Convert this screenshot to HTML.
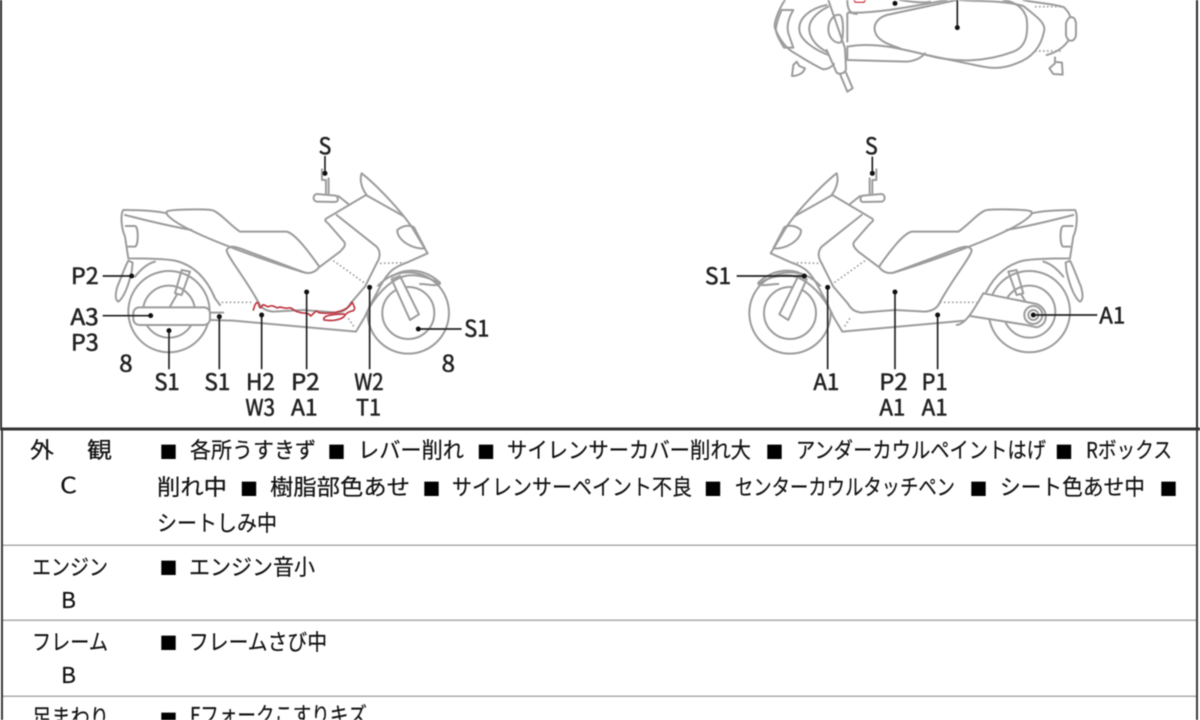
<!DOCTYPE html>
<html lang="ja"><head><meta charset="utf-8"><title>車両状態図</title>
<style>
html,body{margin:0;padding:0;background:#fff;width:1200px;height:720px;overflow:hidden}
svg{display:block;filter:blur(.4px)}
text{font-family:"Liberation Sans","Noto Sans CJK JP",sans-serif;fill:#222}
.l text{font-family:"Noto Sans CJK JP",sans-serif;font-size:68px;fill:#222;stroke:#222;stroke-width:1.6;text-anchor:start}
.b{fill:none;stroke:#9c9c9c;stroke-width:6;stroke-linecap:round;stroke-linejoin:round}
.d{fill:none;stroke:#a0a0a0;stroke-width:5;stroke-dasharray:5 7}
.k{stroke:#222;stroke-width:5;fill:none}
.t text{font-family:"Noto Sans CJK JP",sans-serif;font-size:22px;fill:#111;stroke:#111;stroke-width:.2}
.s text{font-family:"Noto Sans CJK JP",sans-serif;font-size:18px;fill:#000}
</style></head><body>
<svg width="1200" height="720" viewBox="0 0 1200 720" xmlns="http://www.w3.org/2000/svg">
<defs>
<g id="bike">
  <circle cx="327" cy="545" r="122"/><circle cx="327" cy="545" r="78"/>
  <circle cx="1045" cy="549" r="122"/><circle cx="1045" cy="549" r="78"/>
  <path d="M960,470 L915,560 L888,605 L800,600 L800,450 Z" fill="#fff" stroke="none"/>
  <path d="M995,448 L1020,438 L1077,553 L1050,570 Z" fill="#fff"/>
  <path d="M930,530 C960,480 1000,445 1040,437 C1075,432 1115,445 1140,462 C1125,470 1105,462 1080,462"/>
  <path d="M995,440 C1030,415 1090,412 1140,458"/>
  <path d="M205,392 L218,398 L215,425 C205,470 190,505 175,515 C165,510 165,495 172,470 C185,440 195,410 205,392 Z"/>
  <path d="M225,440 C245,415 265,400 285,395"/>
  <path d="M190,240 C250,240 290,243 320,250 M195,255 C255,270 310,285 395,300"/>
  <path d="M320,245 C330,237 440,237 458,241 C480,248 510,285 540,305 L680,305 C710,312 760,385 778,410 C770,425 750,432 735,428 C690,415 360,310 320,252 Z"/>
  <path d="M190,240 C182,250 182,290 195,320 L205,385 C250,385 310,385 345,392 C400,405 440,445 465,505 L480,525"/>
  <path d="M197,288 L225,288 C236,290 236,346 225,350 L205,350"/>
  <path d="M345,490 L365,420 L390,425 L365,495 Z M330,530 L350,495"/>
  <path d="M905,130 C898,150 905,175 920,195 M905,130 C950,165 1020,240 1055,290"/>
  <path d="M1012,300 C1030,285 1050,285 1062,292 L1095,355 C1060,360 1010,330 1012,300 Z"/>
  <path d="M1055,290 L1103,370 L1040,398 C1000,412 985,425 960,470 C945,500 930,525 915,560 L888,605 L520,572"/>
  <path d="M800,265 L918,195 L1030,258"/>
  <path d="M800,265 C790,272 800,276 806,282 L852,335 C860,345 850,355 840,365 L780,410"/>
  <path d="M830,255 L950,350 C962,365 962,380 950,400 L915,470 L872,520 C860,540 850,545 830,548 L730,540"/>
  <path d="M500,360 C510,345 520,350 540,355 L735,428 M500,362 C505,385 560,450 598,522 C605,535 620,543 640,545 L730,540"/>
  <path d="M798,190 L798,150 L786,150 L786,118 M806,190 L806,145"/>
  <path d="M770,192 L828,197 C836,205 836,215 825,216 L770,215 C758,212 758,194 770,192 Z M835,198 L865,222"/>
</g>
<g id="dots">
  <path d="M820,392 L915,460 M960,400 L1035,398 M865,565 L885,595"/>
</g>
</defs>

<!-- frame -->
<rect x="1" y="-2" width="1196" height="431" fill="none" stroke="#2b2b2b" stroke-width="2"/>
<rect x="2" y="429" width="1195" height="300" fill="none" stroke="#3a3a3a" stroke-width="2"/>
<rect x="0" y="427.5" width="1200" height="3" fill="#333"/>
<rect x="3" y="544.5" width="1193" height="1.5" fill="#aaa"/>
<rect x="3" y="619.5" width="1193" height="1.5" fill="#aaa"/>
<rect x="3" y="695.5" width="1193" height="1.5" fill="#aaa"/>

<!-- top view -->
<g transform="translate(760,0) scale(.3333)">
 <g class="b">
  <path d="M75,0 C55,30 40,70 45,85 C55,110 75,145 105,160 C130,175 160,195 190,208 C205,208 215,200 222,192"/>
  <path d="M65,30 L100,30 C85,55 80,80 85,100 L100,143 L72,143 C55,115 45,95 48,82 C52,60 58,45 65,30 Z"/>
  <path d="M200,15 C150,25 115,55 118,90 C120,120 165,150 205,165"/>
  <path d="M205,20 C165,40 145,65 148,90 C150,115 170,140 200,155"/>
  <path d="M205,88 C205,60 225,40 240,45 C252,50 252,125 240,128 C222,130 205,110 205,88 Z"/>
  <path d="M205,0 L255,145 L258,205 C258,220 238,225 230,218 L200,150"/>
  <path d="M262,40 L262,125 M262,145 L262,180 L440,185 C470,182 485,172 495,160"/>
  <path d="M262,140 C340,125 420,145 500,165 C590,190 680,185 760,155 C800,140 805,100 800,55 C790,20 760,5 730,0"/>
  <path d="M265,38 C340,40 430,25 560,0"/>
  <path d="M380,45 C350,55 340,75 345,95 C352,120 380,132 420,145"/>
  <path d="M380,45 L590,0 M600,0 C650,5 730,0 790,18 C830,50 860,70 852,95 C845,130 825,170 770,190 C710,215 670,200 620,190 L500,165"/>
  <path d="M790,0 C830,10 880,10 912,22 C925,35 930,45 930,50 M925,122 C905,150 880,160 860,165"/>
  <path d="M918,70 C925,45 945,45 948,70 L948,105 C945,128 922,128 918,105 Z"/>
  <path d="M110,185 L100,195 L96,228 C110,228 130,222 135,205 L118,198 Z"/>
  <path d="M885,172 L885,190 L868,205 L880,222 L908,224 L906,188 L890,186"/>
  <path d="M240,222 L262,275 L278,265 L258,218"/>
  <path d="M262,0 C262,30 270,40 290,42 M420,0 C450,5 490,10 510,5"/>
 </g>
 <path class="d" d="M825,20 L910,20 M825,153 L905,153"/>
 <path d="M282,0 L286,7 L312,7 L316,0" fill="none" stroke="#d04a55" stroke-width="4"/>
 <path class="k" d="M592,0 L592,83"/>
 <circle cx="592" cy="83" r="7.5" fill="#111"/><circle cx="405" cy="10" r="7.5" fill="#111"/>
</g>

<!-- left bike -->
<g transform="translate(60,130) scale(.3333)">
 <g class="b">
  <use href="#bike"/>
  <rect x="220" y="532" width="230" height="53" rx="18" fill="#fff"/>
  <path d="M450,548 L490,548 M450,570 L520,572"/>
 </g>
 <g class="d"><use href="#dots"/><path d="M485,517 L580,517"/></g>
 <path d="M580,540 C584,525 590,512 595,520 C598,530 600,540 606,528 C612,518 618,532 626,530 C636,524 644,530 652,534 C662,526 672,538 684,534 C696,530 704,546 716,546 C730,552 745,546 752,558 C762,552 768,536 776,548 C790,550 820,552 850,540 C862,535 872,528 876,516 C882,528 888,536 880,542 C868,544 858,548 852,560 C842,570 815,574 792,570 C786,558 815,552 852,552" fill="none" stroke="#be3540" stroke-width="5" stroke-linejoin="round" stroke-linecap="round"/>
 <g class="k">
  <path d="M795,78 V130 M128,438 H215 M128,557 H272 M327,602 V718 M478,560 V718 M605,555 V718 M740,486 V718 M929,472 V718 M1075,597 H1205"/>
 </g>
 <g fill="#111">
  <circle cx="795" cy="130" r="7.5"/><circle cx="215" cy="438" r="7.5"/><circle cx="272" cy="557" r="7.5"/><circle cx="327" cy="602" r="7.5"/><circle cx="478" cy="560" r="7.5"/><circle cx="605" cy="555" r="7.5"/><circle cx="740" cy="486" r="7.5"/><circle cx="929" cy="472" r="7.5"/><circle cx="1075" cy="597" r="7.5"/>
 </g>
 <g class="l">
  <text x="776" y="72" textLength="38" lengthAdjust="spacingAndGlyphs">S</text>
  <text x="33" y="462" textLength="83" lengthAdjust="spacingAndGlyphs">P2</text>
  <text x="31" y="585" textLength="85" lengthAdjust="spacingAndGlyphs">A3</text>
  <text x="33" y="662" textLength="83" lengthAdjust="spacingAndGlyphs">P3</text>
  <text x="178" y="725" textLength="40" lengthAdjust="spacingAndGlyphs">8</text>
  <text x="283" y="780" textLength="76" lengthAdjust="spacingAndGlyphs">S1</text>
  <text x="433" y="780" textLength="78" lengthAdjust="spacingAndGlyphs">S1</text>
  <text x="558" y="780" textLength="87" lengthAdjust="spacingAndGlyphs">H2</text>
  <text x="556" y="857" textLength="89" lengthAdjust="spacingAndGlyphs">W3</text>
  <text x="693" y="780" textLength="86" lengthAdjust="spacingAndGlyphs">P2</text>
  <text x="693" y="857" textLength="80" lengthAdjust="spacingAndGlyphs">A1</text>
  <text x="883" y="780" textLength="88" lengthAdjust="spacingAndGlyphs">W2</text>
  <text x="888" y="857" textLength="75" lengthAdjust="spacingAndGlyphs">T1</text>
  <text x="1145" y="725" textLength="40" lengthAdjust="spacingAndGlyphs">8</text>
  <text x="1213" y="620" textLength="75" lengthAdjust="spacingAndGlyphs">S1</text>
 </g>
</g>

<!-- right bike -->
<g transform="translate(690,130) scale(.3333)">
 <g class="b">
  <g transform="translate(1345,0) scale(-1,1)"><use href="#bike"/></g>
  <path d="M880,490 L1040,522 C1075,535 1078,585 1040,592 L1010,585 L840,558" fill="#fff"/>
  <path d="M800,585 C822,583 840,560 880,490"/>
  <circle cx="1030" cy="555" r="27"/>
  <circle cx="1030" cy="555" r="15"/>
 </g>
 <g class="d"><g transform="translate(1345,0) scale(-1,1)"><use href="#dots"/></g><path d="M750,517 L860,517"/></g>
 <g class="k">
  <path d="M547,80 V130 M140,438 H343 M413,472 V718 M615,486 V718 M743,555 V718 M1030,555 H1222"/>
 </g>
 <g fill="#111">
  <circle cx="547" cy="130" r="7.5"/><circle cx="343" cy="438" r="7.5"/><circle cx="413" cy="472" r="7.5"/><circle cx="615" cy="486" r="7.5"/><circle cx="743" cy="555" r="7.5"/><circle cx="1030" cy="555" r="7.5"/>
 </g>
 <g class="l">
  <text x="525" y="72" textLength="38" lengthAdjust="spacingAndGlyphs">S</text>
  <text x="45" y="462" textLength="78" lengthAdjust="spacingAndGlyphs">S1</text>
  <text x="1228" y="580" textLength="78" lengthAdjust="spacingAndGlyphs">A1</text>
  <text x="370" y="780" textLength="78" lengthAdjust="spacingAndGlyphs">A1</text>
  <text x="568" y="780" textLength="85" lengthAdjust="spacingAndGlyphs">P2</text>
  <text x="568" y="857" textLength="78" lengthAdjust="spacingAndGlyphs">A1</text>
  <text x="695" y="780" textLength="78" lengthAdjust="spacingAndGlyphs">P1</text>
  <text x="695" y="857" textLength="78" lengthAdjust="spacingAndGlyphs">A1</text>
 </g>
</g>

<!-- table text -->
<g class="t">
 <text x="30" y="458" textLength="24" lengthAdjust="spacingAndGlyphs">外</text>
 <text x="87" y="458" textLength="25" lengthAdjust="spacingAndGlyphs">観</text>
 <text x="60" y="493" textLength="17" lengthAdjust="spacingAndGlyphs">C</text>
 <text x="32" y="575" textLength="76" lengthAdjust="spacingAndGlyphs">エンジン</text>
 <text x="61" y="608" textLength="15" lengthAdjust="spacingAndGlyphs">B</text>
 <text x="32" y="650" textLength="76" lengthAdjust="spacingAndGlyphs">フレーム</text>
 <text x="61" y="683" textLength="15" lengthAdjust="spacingAndGlyphs">B</text>
 <text x="32" y="725" textLength="77" lengthAdjust="spacingAndGlyphs">足まわり</text>

 <text x="190" y="458" textLength="126" lengthAdjust="spacingAndGlyphs">各所うすきず</text>
 <text x="358" y="458" textLength="106" lengthAdjust="spacingAndGlyphs">レバー削れ</text>
 <text x="507" y="458" textLength="244" lengthAdjust="spacingAndGlyphs">サイレンサーカバー削れ大</text>
 <text x="796" y="458" textLength="250" lengthAdjust="spacingAndGlyphs">アンダーカウルペイントはげ</text>
 <text x="1086" y="458" textLength="86" lengthAdjust="spacingAndGlyphs">Rボックス</text>

 <text x="157" y="495" textLength="70" lengthAdjust="spacingAndGlyphs">削れ中</text>
 <text x="270" y="495" textLength="140" lengthAdjust="spacingAndGlyphs">樹脂部色あせ</text>
 <text x="452" y="495" textLength="240" lengthAdjust="spacingAndGlyphs">サイレンサーペイント不良</text>
 <text x="735" y="495" textLength="220" lengthAdjust="spacingAndGlyphs">センターカウルタッチペン</text>
 <text x="1000" y="495" textLength="145" lengthAdjust="spacingAndGlyphs">シート色あせ中</text>

 <text x="157" y="531" textLength="120" lengthAdjust="spacingAndGlyphs">シートしみ中</text>
 <text x="189" y="575" textLength="126" lengthAdjust="spacingAndGlyphs">エンジン音小</text>
 <text x="189" y="650" textLength="138" lengthAdjust="spacingAndGlyphs">フレームさび中</text>
 <text x="190" y="723" textLength="177" lengthAdjust="spacingAndGlyphs">Fフォークこすりキズ</text>
</g>
<g class="s">
 <text x="159.5" y="459">■</text><text x="327.5" y="459">■</text><text x="477" y="459">■</text><text x="765.5" y="459">■</text><text x="1055" y="459">■</text>
 <text x="240" y="496">■</text><text x="422.5" y="496">■</text><text x="704" y="496">■</text><text x="969.5" y="496">■</text><text x="1159.5" y="496">■</text>
 <text x="159.5" y="575">■</text><text x="159.5" y="650">■</text><text x="159.5" y="727">■</text>
</g>
</svg>
</body></html>
